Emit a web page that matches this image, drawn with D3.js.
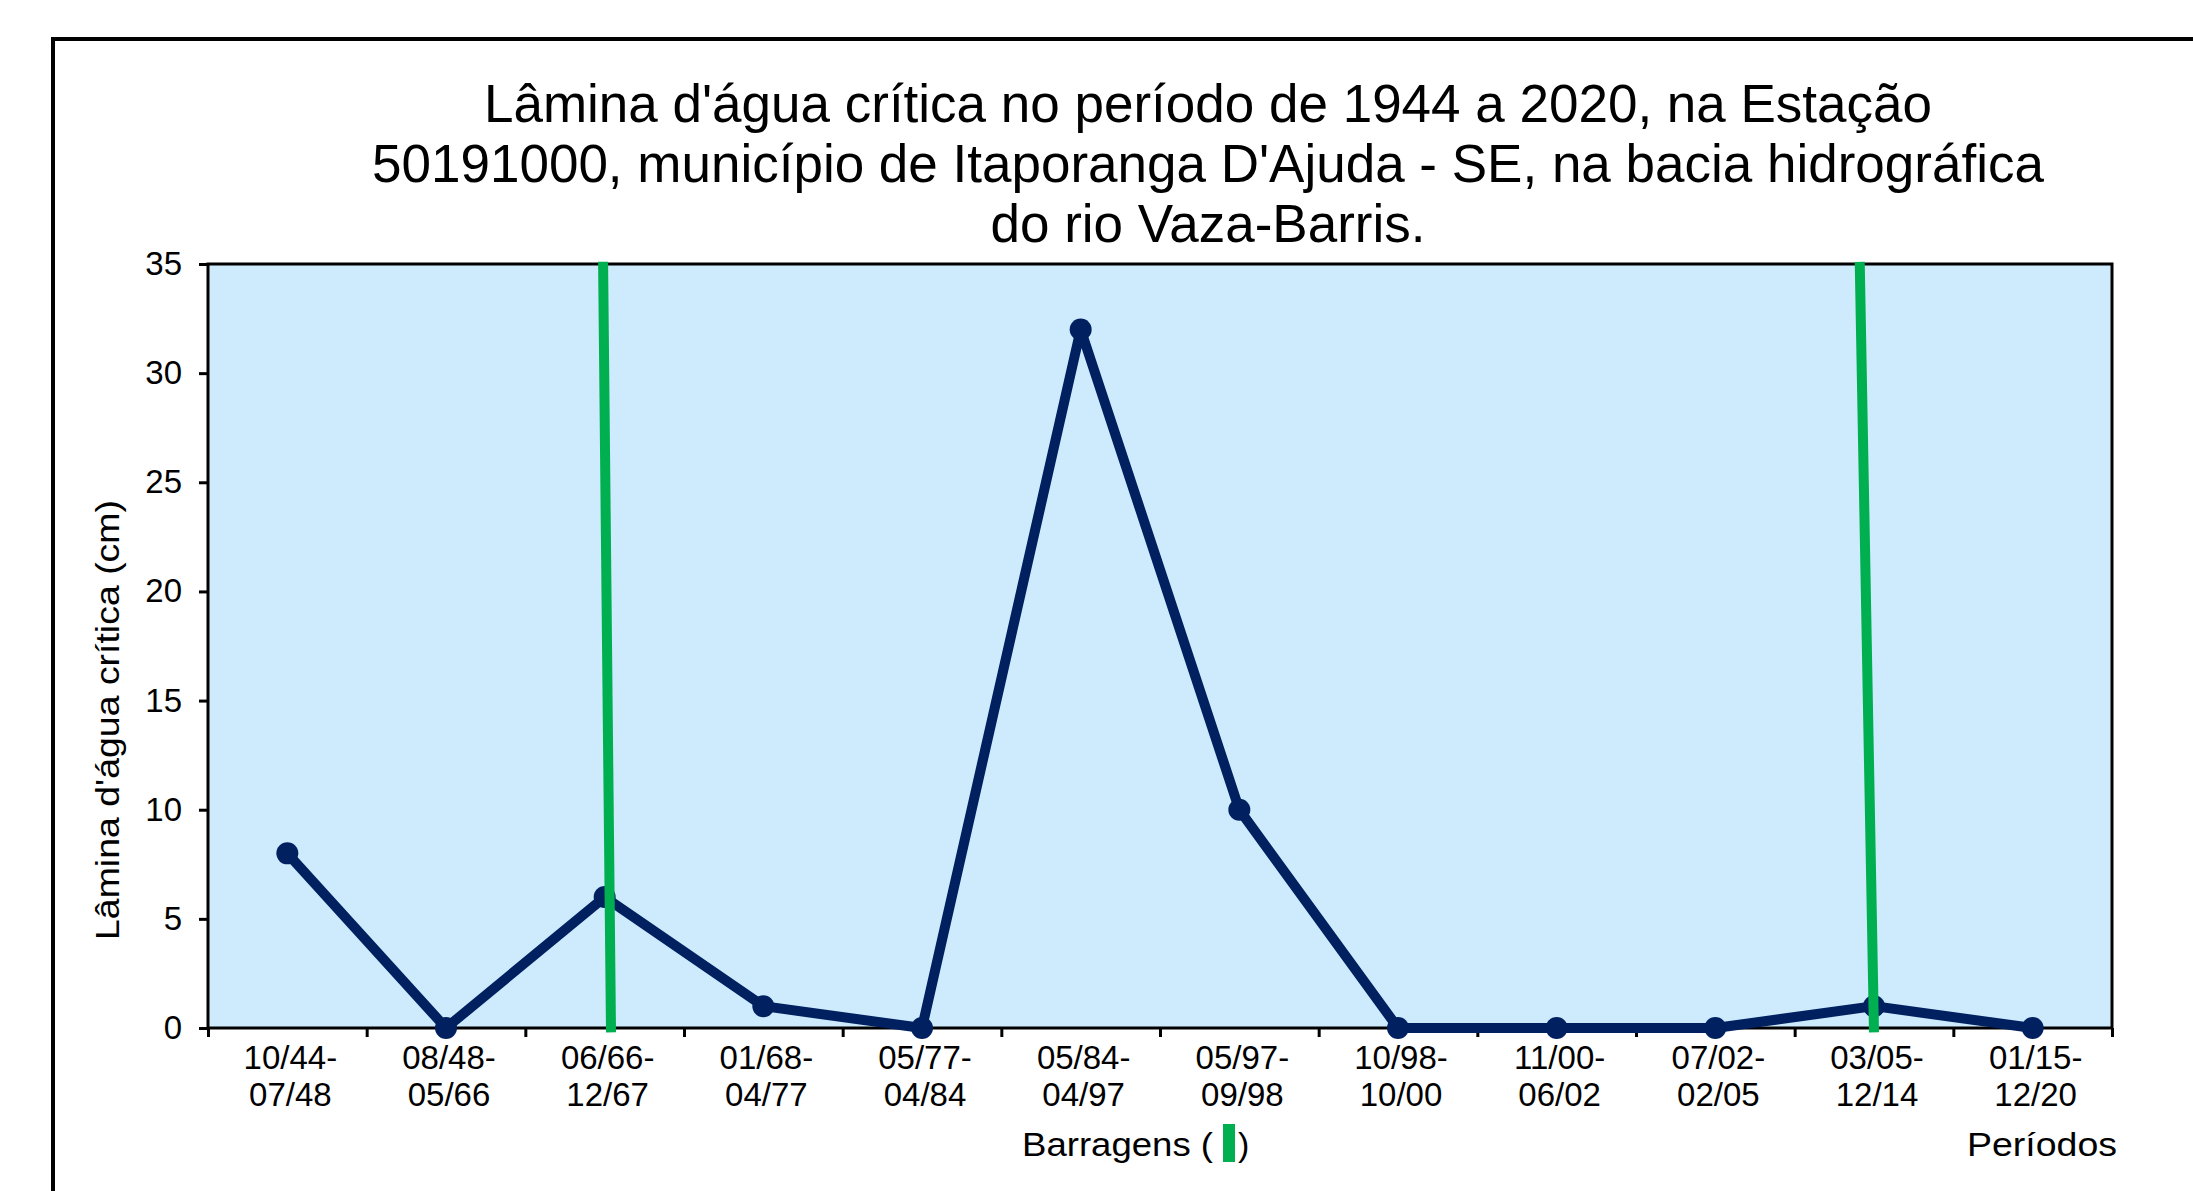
<!DOCTYPE html>
<html>
<head>
<meta charset="utf-8">
<script src="https://cdn.jsdelivr.net/npm/d3@7"></script>
<style>
  body { margin: 0; background: #fff; }
  svg { display: block; font-family: "Liberation Sans", Arial, sans-serif; }
</style>
</head>
<body>
<script>
// data
var periodos = ["10/44-07/48", "08/48-05/66", "06/66-12/67", "01/68-04/77", "05/77-04/84", "05/84-04/97",
    "05/97-09/98", "10/98-10/00", "11/00-06/02", "07/02-02/05", "03/05-12/14", "01/15-12/20"];
var lamina = [8, 0, 6, 1, 0, 32, 10, 0, 0, 0, 1, 0];
var yTicks = [0, 5, 10, 15, 20, 25, 30, 35];
// dam markers (position in category units, top and bottom of the line)
var barragemTopo = [1.99, 9.91];
var barragemBase = [2.04, 10.0];

var titulo = ["Lâmina d'água crítica no período de 1944 a 2020, na Estação",
    "50191000, município de Itaporanga D'Ajuda - SE, na bacia hidrográfica",
    "do rio Vaza-Barris."];

var svgWidth = 2193;
var svgHeight = 1191;
var margin = { top: 264, right: 81, bottom: 163, left: 208 };
var width = svgWidth - margin.left - margin.right;
var height = svgHeight - margin.top - margin.bottom;

var svg = d3.select("body").append("svg")
    .attr("width", svgWidth)
    .attr("height", svgHeight);

// outer frame
svg.append("rect")
    .attr("x", 53).attr("y", 39)
    .attr("width", 2300).attr("height", 1300)
    .attr("fill", "none")
    .attr("stroke", "#000")
    .attr("stroke-width", 4);

// title
svg.append("text")
    .attr("text-anchor", "middle")
    .style("font-size", "53px")
    .attr("fill", "#000")
    .selectAll("tspan")
    .data(titulo)
    .enter()
    .append("tspan")
    .attr("x", 1208)
    .attr("y", (d, i) => 122 + i * 60)
    .text(d => d);

var chartGroup = svg.append("g")
    .attr("transform", `translate(${margin.left}, ${margin.top})`);

var xScale = d3.scaleLinear().domain([0, periodos.length]).range([0, width]);
var yScale = d3.scaleLinear().domain([0, 35]).range([height, 0]);

// plot background
chartGroup.append("rect")
    .attr("width", width)
    .attr("height", height)
    .attr("fill", "#cdebfd");

// y axis
var leftAxis = d3.axisLeft(yScale).tickValues(yTicks).tickSize(9).tickPadding(17);
var yAxis = chartGroup.append("g").call(leftAxis)
    .attr("font-family", null)
    .attr("font-size", null);
yAxis.select(".domain").remove();
yAxis.selectAll("line").attr("stroke", "#000").attr("stroke-width", 3);
yAxis.selectAll("text")
    .style("font-size", "33px")
    .attr("fill", "#000");

// x axis (ticks at category boundaries)
var bottomAxis = d3.axisBottom(xScale).tickValues(d3.range(periodos.length + 1)).tickSize(9).tickFormat("");
var xAxis = chartGroup.append("g")
    .attr("transform", `translate(0, ${height})`)
    .call(bottomAxis);
xAxis.select(".domain").remove();
xAxis.selectAll("line").attr("stroke", "#000").attr("stroke-width", 3);

// x labels, two lines each
var xLabels = chartGroup.append("g")
    .style("font-size", "33px")
    .attr("text-anchor", "middle")
    .selectAll("text")
    .data(periodos)
    .enter()
    .append("text")
    .attr("transform", (d, i) => `translate(${xScale(i + 0.5) + 3}, ${height + 41})`);
xLabels.append("tspan").attr("x", 0).attr("y", 0).text(d => d.split("-")[0] + "-");
xLabels.append("tspan").attr("x", 0).attr("y", 37).text(d => d.split("-")[1]);

// plot border
chartGroup.append("rect")
    .attr("width", width)
    .attr("height", height)
    .attr("fill", "none")
    .attr("stroke", "#000")
    .attr("stroke-width", 3);

// series line
var line = d3.line()
    .x((d, i) => xScale(i + 0.5))
    .y(d => yScale(d));

chartGroup.append("path")
    .datum(lamina)
    .attr("d", line)
    .attr("fill", "none")
    .attr("stroke", "#002060")
    .attr("stroke-width", 10)
    .attr("stroke-linejoin", "round");

chartGroup.selectAll("circle")
    .data(lamina)
    .enter()
    .append("circle")
    .attr("cx", (d, i) => xScale(i + 0.5))
    .attr("cy", d => yScale(d))
    .attr("r", 11)
    .attr("fill", "#002060");

// dams
chartGroup.selectAll(".barragem")
    .data(barragemTopo)
    .enter()
    .append("line")
    .attr("class", "barragem")
    .attr("x1", d => xScale(d + 0.5))
    .attr("y1", yScale(35.1))
    .attr("x2", (d, i) => xScale(barragemBase[i] + 0.5))
    .attr("y2", yScale(-0.2))
    .attr("stroke", "#00b050")
    .attr("stroke-width", 10);

// axis titles
svg.append("text")
    .attr("transform", "translate(107, 720) rotate(-90)")
    .attr("text-anchor", "middle")
    .attr("dy", "0.35em")
    .style("font-size", "34px")
    .attr("textLength", 440)
    .attr("lengthAdjust", "spacingAndGlyphs")
    .text("Lâmina d'água crítica (cm)");

svg.append("text")
    .attr("x", 1022)
    .attr("y", 1156)
    .style("font-size", "34px")
    .attr("textLength", 191)
    .attr("lengthAdjust", "spacingAndGlyphs")
    .text("Barragens (");

svg.append("rect")
    .attr("x", 1223).attr("y", 1124)
    .attr("width", 12).attr("height", 38)
    .attr("fill", "#00b050");

svg.append("text")
    .attr("x", 1238)
    .attr("y", 1156)
    .style("font-size", "34px")
    .text(")");

svg.append("text")
    .attr("x", 1967)
    .attr("y", 1156)
    .style("font-size", "34px")
    .attr("textLength", 150)
    .attr("lengthAdjust", "spacingAndGlyphs")
    .text("Períodos");
</script>
</body>
</html>
